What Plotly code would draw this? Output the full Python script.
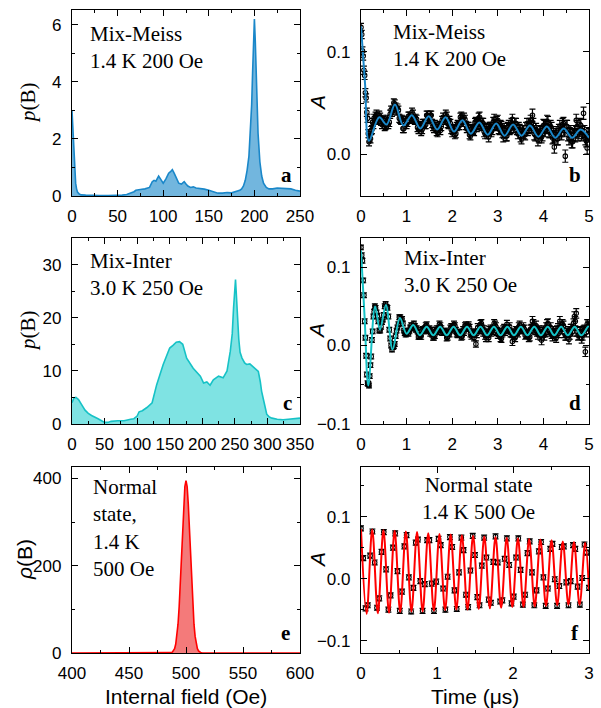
import numpy as np
import plotly.graph_objects as go

# ---------------- data ----------------
# Panel a: field distribution, Mix-Meiss 1.4 K 200 Oe
B_A = [0, 1, 2, 3, 4, 5, 6, 8, 10, 15, 20, 30, 40, 50, 55, 60, 65, 68, 70, 72,
       75, 80, 85, 88, 90, 92, 95, 97, 100, 103, 106, 108, 110, 112, 114, 117, 120, 123, 125, 127,
       130, 133, 136, 140, 145, 150, 155, 160, 165, 170, 175, 180, 184, 186, 188, 190, 192, 194, 196, 197,
       198, 199, 200, 201, 202, 203, 204, 206, 208, 210, 213, 216, 220, 225, 230, 235, 240, 245, 250]
P_A = [3.0, 2.2, 1.4, 0.8, 0.45, 0.25, 0.14, 0.07, 0.04, 0.03, 0.02, 0.02, 0.02, 0.02, 0.03, 0.05, 0.1, 0.15, 0.2, 0.22,
       0.23, 0.25, 0.3, 0.5, 0.55, 0.52, 0.7, 0.6, 0.45, 0.6, 0.8, 0.85, 0.92, 0.8, 0.65, 0.45, 0.42, 0.5, 0.42, 0.35,
       0.3, 0.32, 0.28, 0.27, 0.24, 0.2, 0.15, 0.1, 0.1, 0.12, 0.11, 0.15, 0.2, 0.25, 0.35, 0.55, 0.9, 1.4, 2.4, 3.2,
       4.3, 5.5, 6.2, 5.4, 4.2, 3.0, 2.2, 1.2, 0.7, 0.45, 0.3, 0.25, 0.25, 0.28, 0.27, 0.27, 0.25, 0.2, 0.17]

# Panel c: field distribution, Mix-Inter 3.0 K 250 Oe
B_C = [0, 3, 6, 10, 15, 20, 25, 30, 40, 50, 55, 60, 70, 80, 90, 95, 100, 103, 108, 115,
       123, 130, 140, 150, 155, 160, 165, 170, 176, 186, 197, 202, 207, 212, 217, 225, 232, 238, 243, 246,
       248, 250, 251, 252, 254, 256, 258, 261, 265, 268, 273, 278, 282, 286, 289, 291, 295, 299, 303, 307,
       315, 324, 332, 340, 345, 350]
P_C = [4.0, 4.9, 5.0, 4.6, 3.6, 2.6, 2.0, 1.6, 1.0, 0.3, 0.3, 0.5, 0.6, 0.6, 0.9, 1.0, 1.5, 2.3, 2.5, 3.1,
       4.0, 7.4, 11.2, 14.3, 14.8, 15.4, 15.5, 15.0, 12.4, 10.5, 9.0, 7.7, 7.9, 7.3, 8.3, 9.0, 8.7, 10.0, 13.7, 17.0,
       21.8, 26.0, 27.2, 25.0, 20.0, 16.0, 13.5, 12.4, 11.5, 11.2, 11.3, 10.8, 10.3, 9.9, 8.0, 6.2, 4.0, 1.8, 1.3, 1.1,
       0.9, 0.8, 0.9, 1.0, 1.1, 1.1]

# Panel e: field distribution, normal state 1.4 K 500 Oe
B_E = [400, 484, 486, 487, 488, 489, 490, 491, 492, 493, 494, 495, 496, 497, 498, 499, 500,
       501, 502, 503, 504, 505, 506, 507, 508, 509, 510, 511, 512, 513, 514, 516, 600]
P_E = [0, 0, 0.3, 0.8, 2, 4.8, 10, 20.5, 38, 66, 106, 158, 220, 284, 341, 381, 395,
       381, 341, 284, 220, 158, 106, 66, 38, 20.5, 10, 4.8, 2, 0.8, 0.3, 0, 0]

# Time grids of the muon asymmetry spectra (fine bins early, then 0.04 us bins, plus interleaved bins)
T_EARLY_STEP, N_EARLY = 0.016, 20
T_LATE_START, T_LATE_STEP, N_LATE = 0.32, 0.04, 118
T_MID_START, N_MID = 0.34, 117
T_BD = np.round(np.r_[np.arange(N_EARLY) * T_EARLY_STEP,
                      T_LATE_START + np.arange(N_LATE) * T_LATE_STEP,
                      T_MID_START + np.arange(N_MID) * T_LATE_STEP], 3)
T_F_STEP, N_F = 0.03, 101
T_F = np.round(np.arange(N_F) * T_F_STEP, 3)

# Panel b: asymmetry data (units of 0.001)
A_B = [124, 117, 101, 96, 82, 77, 60, 55, 41, 35, 20, 12, 16, 15, 23, 24, 31, 29, 35, 33,
       37, 33, 38, 32, 34, 27, 31, 29, 39, 41, 50, 46, 45, 35, 33, 25, 31, 29, 37, 35, 41, 34, 35, 26, 27,
       22, 30, 29, 38, 34, 38, 30, 25, 27, 21, 28, 27, 36, 33, 37, 29, 30, 21, 25, 20,
       29, 28, 37, 31, 34, 25, 27, 18, 25, 22, 32, 29, 36, 28, 30, 20, 24, 17, 26, 24,
       34, 28, 33, 24, 27, 17, 23, 18, 28, 25, 34, 26, 30, 20, 24, 15, 23, 19, 30, 25,
       33, 38, 20, 24, 14, 22, 17, 28, 23, 32, 22, 27, 16, 7, 21, 15, 27, 20, 30, -2,
       27, 15, 22, 12, 22, 33, 19, 29, 19, 40, 15, 6, 19]
A_B_MID = [39, 34, 36, 29, 33, 28, 34, 31, 43, 43, 49, 42, 43, 34, 34, 25, 33, 31, 37, 34,
           39, 33, 34, 24, 28, 24, 30, 29, 38, 35, 38, 27, 29, 22, 25, 23, 33, 33, 39, 30,
           33, 24, 24, 19, 27, 28, 36, 31, 36, 28, 27, 19, 24, 23, 31, 27, 35, 30, 30, 22,
           25, 20, 26, 22, 31, 29, 32, 25, 28, 21, 25, 18, 26, 24, 30, 26, 30, 24, 26, 17,
           23, 20, 26, 23, 30, 27, 29, 19, 22, 17, 21, 19, 27, 26, 31, 22, 25, 17, 19, 15,
           23, 23, 29, 23, 27, 19, 20, 12, 19, 18, 27, 21, 28, 21, 22, 13, 20]
ERR_B_LEVELS = [4, 5, 6, 4, 5, 6]
ERR_B_COUNTS = [76, 30, 32, 55, 30, 32]
# Panel b: fit curve extrema
T_FIT_B = [0, 0.09, 0.175, 0.40, 0.56, 0.745, 0.93, 1.115, 1.30, 1.485, 1.67, 1.855, 2.04, 2.225, 2.41,
           2.595, 2.78, 2.965, 3.15, 3.335, 3.52, 3.705, 3.89, 4.075, 4.26, 4.445, 4.63, 4.815, 5.0]
A_FIT_B = [125, 68, 13, 36, 29, 48.5, 28, 38, 25, 37, 24, 36, 22, 33, 20,
           31, 19, 30, 18, 29, 18, 28, 17, 27, 16, 25, 16, 24, 16]

# Panel d: asymmetry data (units of 0.001)
A_D = [125, 115, 108, 83, 64, 31, 10, -13, -37, -48, -49, -51, -39, -25, -14, 7, 18, 37, 43, 50,
       48, 38, 19, 24, 33, 50, 49, 37, 9, -5, -1, 12, 23, 36, 31, 28, 16, 17, 15, 23, 22, 28, 20, 18, 11,
       12, 20, 21, 26, 20, 16, 15, 11, 19, 18, 27, 21, 17, 18, 10, 16, 22, 20, 27, 19,
       14, 16, 11, 20, 25, 22, 26, 15, 17, 10, 2, 23, 20, 28, 17, 13, 16, 10, 21, 19,
       28, 24, 14, 17, 9, 20, 18, 27, 21, 16, 5, 14, 19, 16, 26, 21, 24, 13, 15, 10,
       21, 31, 22, 25, 14, 17, 7, 19, 17, 27, 20, 23, 12, 16, 10, 22, 31, 21, 25, 13,
       16, 8, 21, 18, 37, 41, 13, 17, 9, 19, -8, 27, 21]
A_D_MID = [42, 31, 19, 30, 39, 53, 48, 20, 0, -2, 2, 19, 27, 36, 34, 19, 14, 19, 18, 26, 22, 25, 22, 11,
           12, 19, 19, 25, 19, 21, 19, 11, 13, 21, 21, 25, 17, 18, 17, 11, 15, 24, 22, 25,
           15, 16, 17, 12, 17, 26, 22, 23, 12, 15, 17, 15, 20, 27, 21, 20, 10, 15, 19, 17,
           21, 26, 18, 17, 10, 16, 22, 20, 21, 24, 16, 16, 10, 18, 24, 20, 20, 21, 14, 16,
           11, 21, 27, 20, 18, 19, 13, 17, 13, 23, 28, 18, 15, 18, 13, 19, 16, 24, 27, 16,
           13, 18, 14, 21, 28, 31, 18, 14, 18, 13, 20, 17, 25]
ERR_D_LEVELS = [3, 4, 5, 6, 3, 4, 5, 6]
ERR_D_COUNTS = [45, 31, 30, 32, 24, 31, 30, 32]
T_FIT_D = [0, 0.08, 0.16, 0.31, 0.416, 0.547, 0.693, 0.854, 1.0, 1.146, 1.29, 1.44, 1.585, 1.735, 1.88,
           2.03, 2.175, 2.325, 2.47, 2.62, 2.765, 2.915, 3.06, 3.21, 3.355, 3.505, 3.65, 3.80, 3.945, 4.095,
           4.24, 4.39, 4.535, 4.685, 4.83, 4.98, 5.0]
A_FIT_D = [121, 35, -51, 49.6, 20, 51.7, -5, 35, 15, 26, 13, 24, 13, 24, 13,
           24, 13, 24, 13, 24, 13, 24, 13, 24, 13, 24, 13, 24, 13, 24,
           13, 24, 13, 24, 13, 24, 23.8]

# Panel f: asymmetry data (units of 0.001)
A_F = [81, 33, -48, -43, 37, 76, 26, -47, -32, 43, 75, 15, -50, -27, 50, 73, 12, -52, -21, 52,
       70, 2, -53, -15, 58, 63, -4, -52, -9, 62, 62, -8, -52, -5, 64, 54, -16, -50, 3, 67,
       51, -19, -49, 10, 66, 46, -26, -46, 13, 69, 38, -30, -43, 21, 66, 34, -34, -39, 27, 68,
       26, -37, -35, 32, 65, 22, -40, -29, 34, 65, 14, -42, -26, 41, 60, 10, -43, -19, 44, 59,
       2, -44, -16, 48, 56, -1, -44, -12, 51, 52, -6, -43, -4, 54, 48, -13, -42, 1, 55, 42, -15]
ERR_F = 4
T_FIT_F = [0, 0.0738, 0.1475, 0.2213, 0.295, 0.369, 0.4425, 0.516, 0.59, 0.664, 0.7375, 0.811,
           0.885, 0.959, 1.0325, 1.106, 1.18, 1.254, 1.3275, 1.401, 1.475, 1.549, 1.6225, 1.696,
           1.77, 1.844, 1.9175, 1.991, 2.065, 2.139, 2.2125, 2.286, 2.36, 2.434, 2.5075, 2.581,
           2.655, 2.729, 2.8025, 2.876, 2.95, 3.0]
A_FIT_F = [80, -57, 79, -56, 78, -55, 77, -54, 76, -53, 75, -53, 73, -52, 72, -51, 71, -50, 70, -50,
           69, -49, 68, -48, 67, -47, 66, -46, 65, -46, 64, -45, 63, -44, 62, -43, 60, -42, 59, -42, 58, -18]

SCALE = 0.001

# ---------------- figure ----------------
W, H = 601, 708
def PX(x):
    return x / W
def PY(y):
    return 1 - y / H

BLUE, BLUE_FILL = '#1A87C9', '#72B6DE'
CYAN, CYAN_FILL = '#16C2C6', '#7FE3E3'
RED, RED_FILL = '#FF0000', '#F47A7A'

SANS = 'Liberation Sans, Arial, sans-serif'
SERIF = 'Liberation Serif, Times New Roman, serif'

fig = go.Figure()

def dist_trace(x, y, col, fill, ax):
    fig.add_trace(go.Scatter(x=x, y=y, mode='lines', line=dict(color=col, width=1.6),
                             fill='tozeroy', fillcolor=fill, xaxis='x' + ax, yaxis='y' + ax,
                             showlegend=False, hoverinfo='skip'))

def data_trace(t, a, err, ax):
    fig.add_trace(go.Scatter(x=t, y=np.array(a) * SCALE, mode='markers',
                             marker=dict(symbol='circle-open', size=4.5, color='black', line=dict(width=1.1)),
                             error_y=err, xaxis='x' + ax, yaxis='y' + ax,
                             showlegend=False, hoverinfo='skip'))

def fit_trace(t, a, col, ax):
    fig.add_trace(go.Scatter(x=t, y=np.array(a) * SCALE, mode='lines', line=dict(color=col, width=2, shape='spline'),
                             xaxis='x' + ax, yaxis='y' + ax, showlegend=False, hoverinfo='skip'))

dist_trace(B_A, P_A, BLUE, BLUE_FILL, '')
dist_trace(B_C, P_C, CYAN, CYAN_FILL, '3')
dist_trace(B_E, P_E, RED, RED_FILL, '5')

err_b = np.repeat(ERR_B_LEVELS, ERR_B_COUNTS) * SCALE
err_d = np.repeat(ERR_D_LEVELS, ERR_D_COUNTS) * SCALE
EB = dict(color='black', thickness=1.2, width=3)
data_trace(T_BD, A_B + A_B_MID, dict(type='data', array=err_b, **EB), '2')
data_trace(T_BD, A_D + A_D_MID, dict(type='data', array=err_d, **EB), '4')
data_trace(T_F, A_F, dict(type='constant', value=ERR_F * SCALE, **EB), '6')
fit_trace(T_FIT_B, A_FIT_B, BLUE, '2')
fit_trace(T_FIT_D, A_FIT_D, CYAN, '4')
fit_trace(T_FIT_F, A_FIT_F, RED, '6')

COLS = {'L': (72, 300), 'R': (361, 589)}
ROWS = {1: (10, 196), 2: (238, 424), 3: (467, 653)}

def axis(col, row, rng, dtick, minor, anchor, fmt=None, tick0=0, side='x'):
    if side == 'x':
        dom = [PX(COLS[col][0]), PX(COLS[col][1])]
        stand = 4
    else:
        dom = [PY(ROWS[row][1]), PY(ROWS[row][0])]
        stand = 6
    d = dict(domain=dom, range=rng, dtick=dtick, tick0=tick0, anchor=anchor, automargin=False,
             ticks='inside', ticklen=6, tickwidth=1.2, tickcolor='black',
             showline=True, linecolor='black', linewidth=1.3, mirror='ticks',
             showgrid=False, zeroline=False, tickangle=0, ticklabelstandoff=stand,
             tickfont=dict(family=SANS, size=17, color='black'),
             minor=dict(ticks='inside', ticklen=3, tickwidth=1.1, dtick=minor, tick0=tick0,
                        tickcolor='black', showgrid=False))
    if fmt:
        d['tickformat'] = fmt
    return d

layout = dict(width=W, height=H, margin=dict(l=0, r=0, t=0, b=0, autoexpand=False),
              paper_bgcolor='white', plot_bgcolor='white', showlegend=False)
layout['xaxis'] = axis('L', 1, [0, 250], 50, 25, 'y')
layout['yaxis'] = axis('L', 1, [0, 6.52], 2, 1, 'x', side='y')
layout['xaxis2'] = axis('R', 1, [0, 5], 1, 0.5, 'y2')
layout['yaxis2'] = axis('R', 1, [-0.041, 0.141], 0.1, 0.05, 'x2', fmt='.1f', side='y')
layout['xaxis3'] = axis('L', 2, [0, 350], 50, 25, 'y3')
layout['yaxis3'] = axis('L', 2, [0, 35], 10, 5, 'x3', side='y')
layout['xaxis4'] = axis('R', 2, [0, 5], 1, 0.5, 'y4')
layout['yaxis4'] = axis('R', 2, [-0.1, 0.137], 0.1, 0.05, 'x4', fmt='.1f', side='y')
layout['xaxis5'] = axis('L', 3, [400, 600], 50, 25, 'y5', tick0=400)
layout['yaxis5'] = axis('L', 3, [0, 426], 200, 100, 'x5', side='y')
layout['xaxis6'] = axis('R', 3, [0, 3], 1, 0.5, 'y6')
layout['yaxis6'] = axis('R', 3, [-0.12, 0.18], 0.1, 0.05, 'x6', fmt='.1f', side='y')
fig.update_layout(**layout)

ann = []
def text(x, y, s, family=SERIF, size=21, xa='left', ya='top', angle=0, align='left'):
    ann.append(dict(x=PX(x), y=PY(y), xref='paper', yref='paper', text=s, showarrow=False,
                    xanchor=xa, yanchor=ya, textangle=angle, align=align,
                    font=dict(family=family, size=size, color='black')))

# panel texts
text(88, 20, 'Mix-Meiss<br>1.4 K 200 Oe')
text(391, 18, 'Mix-Meiss<br>1.4 K 200 Oe')
text(88, 247, 'Mix-Inter<br>3.0 K 250 Oe')
text(402, 244, 'Mix-Inter<br>3.0 K 250 Oe')
text(91, 473, 'Normal<br>state,<br>1.4 K<br>500 Oe')
text(478, 471, 'Normal state<br>1.4 K 500 Oe', xa='center', align='center')

# panel letters
for (x, y, s) in [(294, 189, 'a'), (583, 189, 'b'), (294, 417, 'c'), (583, 417, 'd'),
                  (292, 647, 'e'), (581, 647, 'f')]:
    text(x, y, '<b>' + s + '</b>', size=21, xa='right', ya='bottom')

# axis titles
text(28, 103, '<i>p</i>(B)', xa='center', ya='middle', angle=-90)
text(28, 331, '<i>p</i>(B)', xa='center', ya='middle', angle=-90)
text(24, 560, '<i>ρ</i>(B)', family=SANS, xa='center', ya='middle', angle=-90)
for yy in (103, 331, 560):
    text(317, yy, '<i>A</i>', family=SANS, xa='center', ya='middle', angle=-90)
text(186, 696, 'Internal field (Oe)', family=SANS, xa='center', ya='middle')
text(475, 696, 'Time (μs)', family=SANS, xa='center', ya='middle')

fig.update_layout(annotations=ann)

assert len(B_A) == len(P_A) and len(B_C) == len(P_C) and len(B_E) == len(P_E)
assert len(A_B) + len(A_B_MID) == len(T_BD) == len(A_D) + len(A_D_MID) == sum(ERR_B_COUNTS) == sum(ERR_D_COUNTS)
assert len(A_F) == len(T_F) and len(T_FIT_B) == len(A_FIT_B)
assert len(T_FIT_D) == len(A_FIT_D) and len(T_FIT_F) == len(A_FIT_F)

fig.write_html("out.html", config={'displayModeBar': False},
               post_script="document.body.style.margin='0';")
